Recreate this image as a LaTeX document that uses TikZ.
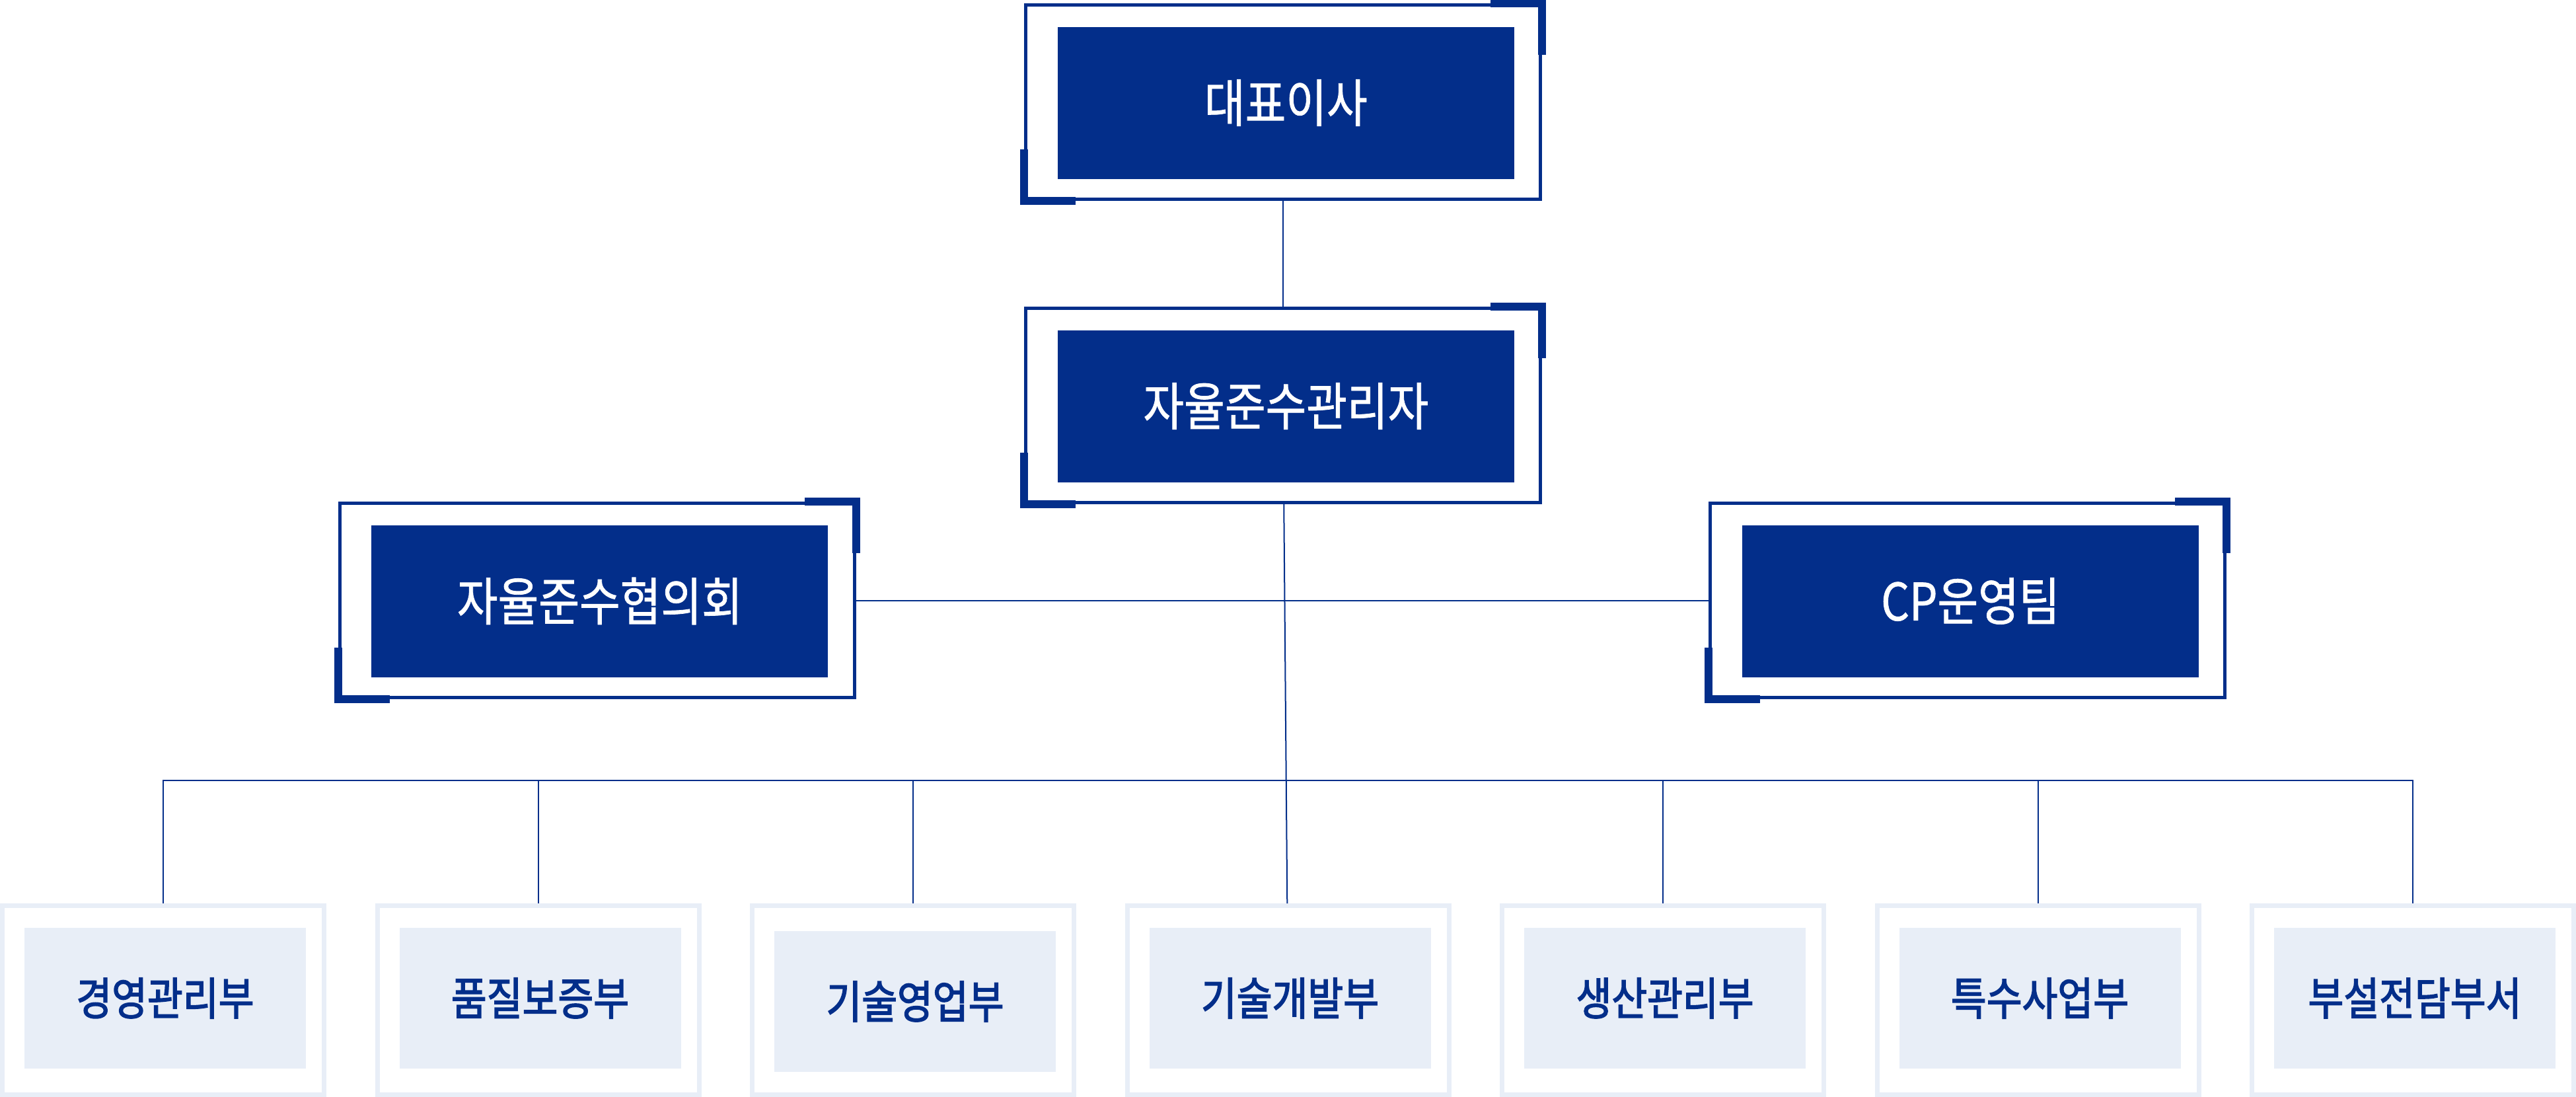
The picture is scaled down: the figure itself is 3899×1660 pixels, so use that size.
\documentclass[tikz,border=0pt]{standalone}
\usepackage{fontspec}
\newfontfamily\krfont[FakeStretch=0.86, FakeBold=1]{Noto Sans CJK KR}
\newfontfamily\krdept[FakeStretch=0.86, FakeBold=2.2]{Noto Sans CJK KR}
\usetikzlibrary{positioning}

\definecolor{navy}{RGB}{3,46,138}
\definecolor{pale}{RGB}{232,238,247}

\begin{document}
\begin{tikzpicture}[x=0.25pt, y=-0.25pt,
  frm/.style={draw=navy, line width=1.25pt, minimum width=194.75pt, minimum height=73.5pt, inner sep=0pt},
  fil/.style={fill=navy, text=white, minimum width=172.75pt, minimum height=57.5pt, inner sep=0pt, font=\krfont\fontsize{19.5}{22}\selectfont},
  dfrm/.style={draw=pale, line width=1.75pt, minimum width=121.75pt, minimum height=71.5pt, inner sep=0pt},
  dfil/.style={fill=pale, text=navy, minimum width=106.5pt, minimum height=53.25pt, inner sep=0pt, font=\krdept\fontsize{17}{20}\selectfont},
  conn/.style={navy, line width=0.5pt},
  acc/.style={navy, line width=3pt}
]
\useasboundingbox (0,0) rectangle (3899,1660);

% upper boxes
\node[frm] (ceoF) at (1942,154.5) {};
\node[frm] (cpoF) at (1942,613.5) {};
\node[frm] (cmtF) at (903.5,908.5) {};
\node[frm] (cpF) at (2978,908.5) {};

\node[fil] (ceo) at ([xshift=1.1pt,yshift=-0.25pt]ceoF.center) {대표이사};
\node[fil] (cpo) at ([xshift=1.1pt,yshift=-0.25pt]cpoF.center) {자율준수관리자};
\node[fil] (cmt) at ([xshift=1.1pt,yshift=-0.25pt]cmtF.center) {자율준수협의회};
\node[fil] (cp) at ([xshift=1.1pt,yshift=-0.25pt]cpF.center) {CP운영팀};

% corner marks
\draw[acc] ([xshift=-19.5pt]ceoF.north east) -- (ceoF.north east) -- ([yshift=-19.5pt]ceoF.north east);
\draw[acc] ([yshift=19.5pt]ceoF.south west) -- (ceoF.south west) -- ([xshift=19.5pt]ceoF.south west);
\draw[acc] ([xshift=-19.5pt]cpoF.north east) -- (cpoF.north east) -- ([yshift=-19.5pt]cpoF.north east);
\draw[acc] ([yshift=19.5pt]cpoF.south west) -- (cpoF.south west) -- ([xshift=19.5pt]cpoF.south west);
\draw[acc] ([xshift=-19.5pt]cmtF.north east) -- (cmtF.north east) -- ([yshift=-19.5pt]cmtF.north east);
\draw[acc] ([yshift=19.5pt]cmtF.south west) -- (cmtF.south west) -- ([xshift=19.5pt]cmtF.south west);
\draw[acc] ([xshift=-19.5pt]cpF.north east) -- (cpF.north east) -- ([yshift=-19.5pt]cpF.north east);
\draw[acc] ([yshift=19.5pt]cpF.south west) -- (cpF.south west) -- ([xshift=19.5pt]cpF.south west);

% departments
\node[dfrm] (b1F) at (247,1513.5) {};
\node[dfrm, right=18.375pt of b1F] (b2F) {};
\node[dfrm, right=18.375pt of b2F] (b3F) {};
\node[dfrm, right=18.375pt of b3F] (b4F) {};
\node[dfrm, right=18.375pt of b4F] (b5F) {};
\node[dfrm, right=18.375pt of b5F] (b6F) {};
\node[dfrm, right=18.375pt of b6F] (b7F) {};

\node[dfil] (b1) at ([xshift=0.75pt,yshift=0.75pt]b1F.center) {경영관리부};
\node[dfil] (b2) at ([xshift=0.75pt,yshift=0.75pt]b2F.center) {품질보증부};
\node[dfil] (b3) at ([xshift=0.75pt,yshift=-0.5pt]b3F.center) {기술영업부};
\node[dfil] (b4) at ([xshift=0.75pt,yshift=0.75pt]b4F.center) {기술개발부};
\node[dfil] (b5) at ([xshift=0.75pt,yshift=0.75pt]b5F.center) {생산관리부};
\node[dfil] (b6) at ([xshift=0.75pt,yshift=0.75pt]b6F.center) {특수사업부};
\node[dfil] (b7) at ([xshift=0.75pt,yshift=0.75pt]b7F.center) {부설전담부서};

% lines
\coordinate (bus) at (0,1181);
\draw[conn] (ceoF) -- (cpoF);
\draw[conn] (cmtF) -- (cpF);
\draw[conn] (cpoF) -- (b4F);
\draw[conn] (b1F.north) -- (b1F.north |- bus) -- (b7F.north |- bus) -- (b7F.north);
\draw[conn] (b2F.north) -- (b2F.north |- bus);
\draw[conn] (b3F.north) -- (b3F.north |- bus);
\draw[conn] (b5F.north) -- (b5F.north |- bus);
\draw[conn] (b6F.north) -- (b6F.north |- bus);
\end{tikzpicture}
\end{document}
